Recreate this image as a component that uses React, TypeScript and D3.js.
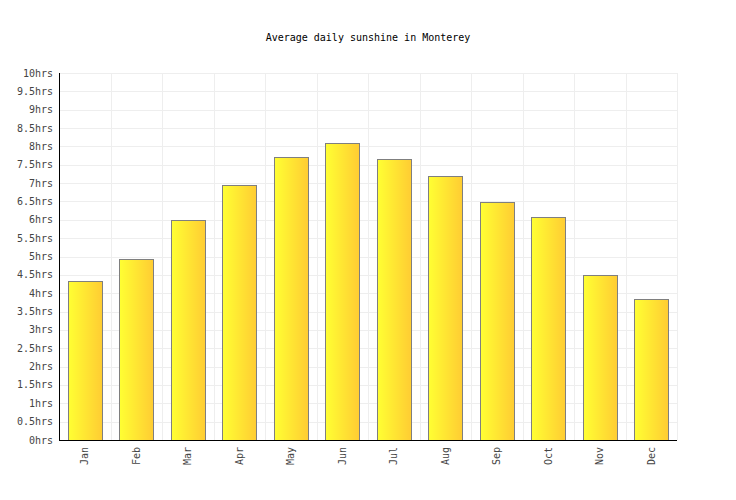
import React from 'react';
import * as d3 from 'd3';

const months = ['Jan', 'Feb', 'Mar', 'Apr', 'May', 'Jun', 'Jul', 'Aug', 'Sep', 'Oct', 'Nov', 'Dec'];
const sunshineHrs = [4.32, 4.93, 6.0, 6.95, 7.71, 8.1, 7.67, 7.18, 6.49, 6.08, 4.49, 3.85];
const yTicks = [0, 0.5, 1, 1.5, 2, 2.5, 3, 3.5, 4, 4.5, 5, 5.5, 6, 6.5, 7, 7.5, 8, 8.5, 9, 9.5, 10];

const W = 736;
const H = 500;
const M = { top: 73, right: 59, bottom: 60, left: 59 };
const FONT = '"DejaVu Sans Mono", "Liberation Mono", monospace';

export default function App() {
  const innerW = W - M.left - M.right;
  const innerH = H - M.top - M.bottom;

  const x = d3.scaleBand<string>().domain(months).range([0, innerW]).paddingInner(0.34).paddingOuter(0.17);
  const y = d3.scaleLinear().domain([0, 10]).range([innerH, 0]);
  const step = x.step();
  const bandEdges = d3.range(months.length + 1).map(i => i * step);

  return (
    <svg width={W} height={H} style={{ display: 'block', margin: -8 }}>
      <defs>
        <linearGradient id="barGrad" x1="0" y1="0" x2="1" y2="0">
          <stop offset="0%" stopColor="#ffff33" />
          <stop offset="100%" stopColor="#ffcc33" />
        </linearGradient>
      </defs>
      <rect width={W} height={H} fill="#fff" />
      <text x={W / 2} y={41} textAnchor="middle" fontFamily={FONT} fontSize={10} fill="#000">
        Average daily sunshine in Monterey
      </text>
      <g transform={`translate(${M.left},${M.top})`}>
        {yTicks.map(t => (
          <line key={`h${t}`} x1={0} x2={innerW} y1={Math.round(y(t)) + 0.5} y2={Math.round(y(t)) + 0.5} stroke="#eeeeee" />
        ))}
        {bandEdges.map((e, i) => (
          <line key={`v${i}`} x1={Math.round(e) + 0.5} x2={Math.round(e) + 0.5} y1={0} y2={innerH} stroke="#eeeeee" />
        ))}
        {months.map((m, i) => {
          const bx = Math.round(x(m) ?? 0) + 0.5;
          const by = Math.round(y(sunshineHrs[i])) + 0.5;
          return (
            <rect
              key={m}
              x={bx}
              y={by}
              width={Math.round(x.bandwidth())}
              height={Math.round(innerH) - by + 0.5}
              fill="url(#barGrad)"
              stroke="#7f7f7f"
              strokeWidth={1}
            />
          );
        })}
        <line x1={0.5} x2={0.5} y1={0} y2={innerH} stroke="#000" />
        <line x1={0} x2={innerW} y1={innerH + 0.5} y2={innerH + 0.5} stroke="#000" />
        {yTicks.map(t => (
          <text key={`yt${t}`} x={-6} y={y(t)} dy="0.35em" textAnchor="end" fontFamily={FONT} fontSize={10} fill="#444">
            {`${t}hrs`}
          </text>
        ))}
        {months.map(m => {
          const cx = (x(m) ?? 0) + x.bandwidth() / 2;
          return (
            <text
              key={`xt${m}`}
              transform={`translate(${cx},${innerH + 7}) rotate(-90)`}
              dy="0.35em"
              textAnchor="end"
              fontFamily={FONT}
              fontSize={10}
              fill="#444"
            >
              {m}
            </text>
          );
        })}
      </g>
    </svg>
  );
}
